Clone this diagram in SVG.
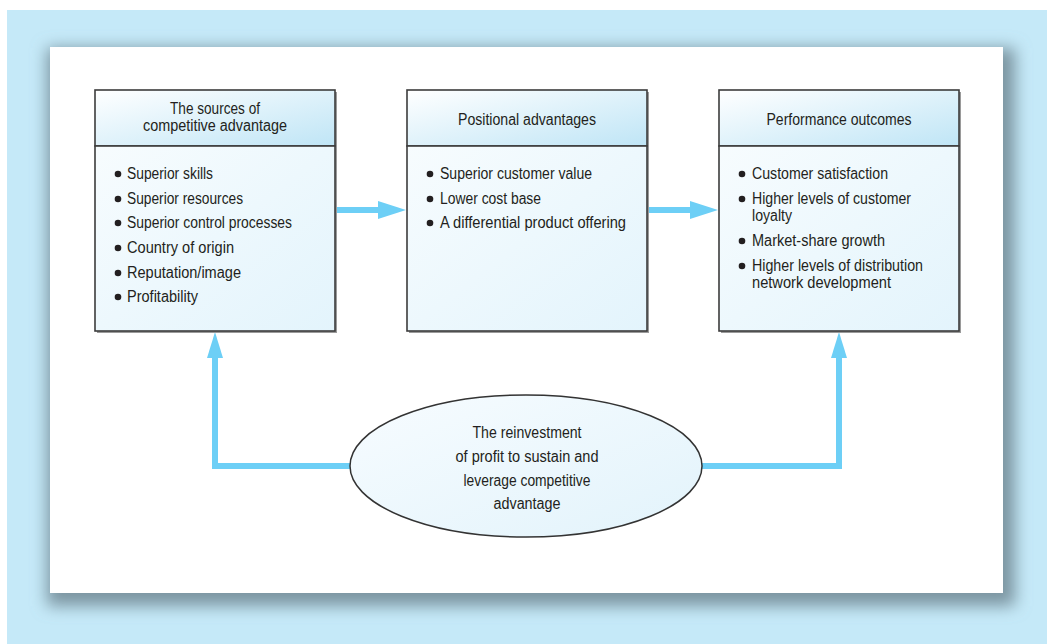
<svg xmlns="http://www.w3.org/2000/svg" width="1047" height="644" viewBox="0 0 1047 644">
<defs>
<linearGradient id="hdr" x1="0" y1="0" x2="1" y2="1">
<stop offset="0" stop-color="#ffffff"/>
<stop offset="1" stop-color="#bfe5f6"/>
</linearGradient>
<linearGradient id="body" x1="0" y1="0" x2="1" y2="1">
<stop offset="0" stop-color="#f7fcfe"/>
<stop offset="1" stop-color="#e3f4fc"/>
</linearGradient>
<linearGradient id="ell" x1="0" y1="0" x2="1" y2="1">
<stop offset="0" stop-color="#f7fcff"/>
<stop offset="1" stop-color="#e2f3fb"/>
</linearGradient>
<filter id="blur" x="-10%" y="-10%" width="120%" height="120%">
<feGaussianBlur stdDeviation="8"/>
</filter>
<style>
.box{stroke:#3c3c3c;stroke-width:1.6}
.sh{fill:#9a9a9a}
.t{font-family:"Liberation Sans",Arial,sans-serif;font-size:16px;fill:#231f20}
.c{text-anchor:middle}
.conn{fill:none;stroke:#6dcff6;stroke-width:6}
.head{fill:#6dcff6}
.dot{fill:#231f20}
</style>
</defs>
<rect x="0" y="0" width="1047" height="644" fill="#ffffff"/>
<rect x="7" y="10" width="1040" height="634" fill="#c5e9f8"/>
<rect x="47" y="48" width="968" height="558" fill="#7b95a1" filter="url(#blur)"/>
<rect x="50" y="47" width="953" height="546" fill="#ffffff"/>

<g id="connectors">
<line class="conn" x1="336" y1="210" x2="382" y2="210"/>
<polygon class="head" points="378,201 406,210 378,219"/>
<line class="conn" x1="648" y1="210" x2="694" y2="210"/>
<polygon class="head" points="690,201 718,210 690,219"/>
<polyline class="conn" points="351,466 215,466 215,354"/>
<polygon class="head" points="207,358 215,332 223,358"/>
<polyline class="conn" points="702,466 839,466 839,354"/>
<polygon class="head" points="831,358 839,332 847,358"/>
</g>

<g id="sources">
<rect class="sh" x="97" y="92" width="240" height="241"/>
<rect class="box" x="95" y="90" width="240" height="56" fill="url(#hdr)"/>
<rect class="box" x="95" y="146" width="240" height="185" fill="url(#body)"/>
<text class="t c" x="215" y="114" textLength="90" lengthAdjust="spacingAndGlyphs">The sources of</text>
<text class="t c" x="215" y="131" textLength="144" lengthAdjust="spacingAndGlyphs">competitive advantage</text>
<circle class="dot" cx="118" cy="174" r="3.3"/>
<text class="t" x="127" y="179" textLength="86" lengthAdjust="spacingAndGlyphs">Superior skills</text>
<circle class="dot" cx="118" cy="199" r="3.3"/>
<text class="t" x="127" y="204" textLength="116" lengthAdjust="spacingAndGlyphs">Superior resources</text>
<circle class="dot" cx="118" cy="223" r="3.3"/>
<text class="t" x="127" y="228" textLength="165" lengthAdjust="spacingAndGlyphs">Superior control processes</text>
<circle class="dot" cx="118" cy="248" r="3.3"/>
<text class="t" x="127" y="253" textLength="107" lengthAdjust="spacingAndGlyphs">Country of origin</text>
<circle class="dot" cx="118" cy="273" r="3.3"/>
<text class="t" x="127" y="278" textLength="114" lengthAdjust="spacingAndGlyphs">Reputation/image</text>
<circle class="dot" cx="118" cy="297" r="3.3"/>
<text class="t" x="127" y="302" textLength="71" lengthAdjust="spacingAndGlyphs">Profitability</text>
</g>

<g id="positional">
<rect class="sh" x="409" y="92" width="240" height="241"/>
<rect class="box" x="407" y="90" width="240" height="56" fill="url(#hdr)"/>
<rect class="box" x="407" y="146" width="240" height="185" fill="url(#body)"/>
<text class="t c" x="527" y="125" textLength="138" lengthAdjust="spacingAndGlyphs">Positional advantages</text>
<circle class="dot" cx="430" cy="174" r="3.3"/>
<text class="t" x="440" y="179" textLength="152" lengthAdjust="spacingAndGlyphs">Superior customer value</text>
<circle class="dot" cx="430" cy="199" r="3.3"/>
<text class="t" x="440" y="204" textLength="101" lengthAdjust="spacingAndGlyphs">Lower cost base</text>
<circle class="dot" cx="430" cy="223" r="3.3"/>
<text class="t" x="440" y="228" textLength="186" lengthAdjust="spacingAndGlyphs">A differential product offering</text>
</g>

<g id="performance">
<rect class="sh" x="721" y="92" width="240" height="241"/>
<rect class="box" x="719" y="90" width="240" height="56" fill="url(#hdr)"/>
<rect class="box" x="719" y="146" width="240" height="185" fill="url(#body)"/>
<text class="t c" x="839" y="125" textLength="145" lengthAdjust="spacingAndGlyphs">Performance outcomes</text>
<circle class="dot" cx="742" cy="174" r="3.3"/>
<text class="t" x="752" y="179" textLength="136" lengthAdjust="spacingAndGlyphs">Customer satisfaction</text>
<circle class="dot" cx="742" cy="199" r="3.3"/>
<text class="t" x="752" y="204" textLength="159" lengthAdjust="spacingAndGlyphs">Higher levels of customer</text>
<text class="t" x="752" y="221" textLength="40" lengthAdjust="spacingAndGlyphs">loyalty</text>
<circle class="dot" cx="742" cy="241" r="3.3"/>
<text class="t" x="752" y="246" textLength="133" lengthAdjust="spacingAndGlyphs">Market-share growth</text>
<circle class="dot" cx="742" cy="266" r="3.3"/>
<text class="t" x="752" y="271" textLength="171" lengthAdjust="spacingAndGlyphs">Higher levels of distribution</text>
<text class="t" x="752" y="288" textLength="139" lengthAdjust="spacingAndGlyphs">network development</text>
</g>

<g id="reinvestment">
<ellipse cx="526" cy="466" rx="176" ry="71" fill="url(#ell)" stroke="#333333" stroke-width="1.5"/>
<text class="t c" x="527" y="438" textLength="109" lengthAdjust="spacingAndGlyphs">The reinvestment</text>
<text class="t c" x="527" y="462" textLength="143" lengthAdjust="spacingAndGlyphs">of profit to sustain and</text>
<text class="t c" x="527" y="486" textLength="127" lengthAdjust="spacingAndGlyphs">leverage competitive</text>
<text class="t c" x="527" y="509" textLength="67" lengthAdjust="spacingAndGlyphs">advantage</text>
</g>
</svg>
